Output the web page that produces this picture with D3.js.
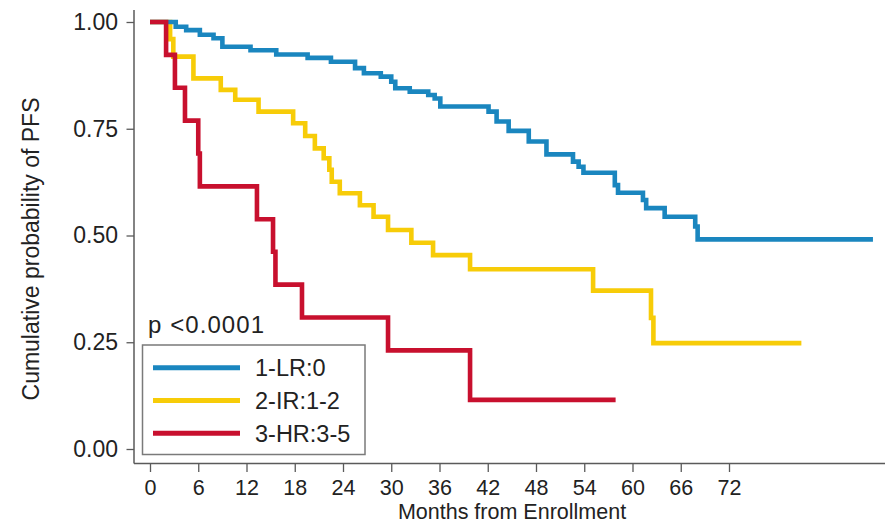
<!DOCTYPE html>
<html>
<head>
<meta charset="utf-8">
<script src="https://cdn.jsdelivr.net/npm/d3@7"></script>
<style>
  html, body { margin: 0; padding: 0; background: #fff; }
  svg { display: block; font-family: "Liberation Sans", Arial, Helvetica, sans-serif; }
</style>
</head>
<body>
<svg id="chart" width="885" height="523"></svg>
<script>
// Axis ticks
const monthTicks = [0, 6, 12, 18, 24, 30, 36, 42, 48, 54, 60, 66, 72];
const probTicks = [0, 0.25, 0.5, 0.75, 1];

// Risk groups
const groups = ["1-LR:0", "2-IR:1-2", "3-HR:3-5"];
const groupColors = ["#1a86bf", "#f7cc08", "#c8102e"];

// Kaplan-Meier step estimates: event times (months) and survival after each step;
// the final pair marks the end of follow-up.
const lrTime = [0, 3.2, 4.5, 6.2, 7.9, 9.0, 12.5, 15.7, 19.6, 22.5, 25.5, 26.6, 28.7, 30.0, 30.5,
  32.3, 34.6, 35.4, 36.1, 42.1, 43.1, 44.6, 47.1, 49.3, 52.6, 53.3, 53.9, 57.8, 58.2, 61.3,
  61.7, 64.0, 67.8, 68.1, 89.9];
const lrSurv = [1, 0.989, 0.981, 0.970, 0.962, 0.942, 0.934, 0.924, 0.916, 0.907, 0.892, 0.880,
  0.872, 0.860, 0.845, 0.837, 0.829, 0.821, 0.802, 0.790, 0.767, 0.745, 0.720, 0.690, 0.673,
  0.661, 0.647, 0.618, 0.600, 0.583, 0.564, 0.544, 0.521, 0.491, 0.491];

const irTime = [0, 2.5, 2.9, 5.4, 8.8, 10.6, 13.5, 17.8, 19.3, 20.5, 21.6, 22.3, 22.6, 23.6, 26.1,
  27.8, 29.6, 32.5, 35.2, 39.8, 55.1, 62.3, 62.6, 81.0];
const irSurv = [1, 0.96, 0.919, 0.868, 0.841, 0.818, 0.790, 0.763, 0.733, 0.704, 0.681, 0.654,
  0.626, 0.599, 0.571, 0.544, 0.513, 0.483, 0.454, 0.421, 0.371, 0.307, 0.248, 0.248];

const hrTime = [0, 2.0, 3.1, 4.35, 6.0, 6.2, 13.3, 15.3, 15.6, 18.9, 29.6, 39.8, 57.9];
const hrSurv = [1, 0.923, 0.846, 0.769, 0.692, 0.615, 0.538, 0.462, 0.385, 0.308, 0.231, 0.115, 0.115];

const pValueText = "p <0.0001";

const svg = d3.select("#chart");

const x = d3.scaleLinear().domain([0, 90]).range([150, 873.75]);
const y = d3.scaleLinear().domain([0, 1]).range([449, 22]);

const axisX = 134;      // vertical axis position
const axisY = 463.5;    // horizontal axis position
const axisColor = "#5a5a5a";
const textColor = "#222";

// Axis lines
svg.append("line")
  .attr("x1", axisX).attr("x2", axisX).attr("y1", 10).attr("y2", axisY)
  .attr("stroke", axisColor).attr("stroke-width", 1.5);
svg.append("line")
  .attr("x1", axisX).attr("x2", 885).attr("y1", axisY).attr("y2", axisY)
  .attr("stroke", axisColor).attr("stroke-width", 1.5);

// Y axis
const gy = svg.append("g")
  .attr("transform", `translate(${axisX},0)`)
  .call(d3.axisLeft(y).tickValues(probTicks).tickFormat(d3.format(".2f"))
    .tickSize(7.5).tickPadding(8.5));
gy.select(".domain").remove();
gy.selectAll(".tick line").attr("stroke", axisColor).attr("stroke-width", 1.3);
gy.selectAll(".tick text").attr("fill", textColor)
  .style("font-size", "23px").style("font-family", "'Liberation Sans', Arial, sans-serif");

// X axis
const gx = svg.append("g")
  .attr("transform", `translate(0,${axisY})`)
  .call(d3.axisBottom(x).tickValues(monthTicks).tickFormat(d3.format("d"))
    .tickSize(8.5).tickPadding(8));
gx.select(".domain").remove();
gx.selectAll(".tick line").attr("stroke", axisColor).attr("stroke-width", 1.3);
gx.selectAll(".tick text").attr("fill", textColor)
  .style("font-size", "21.5px").style("font-family", "'Liberation Sans', Arial, sans-serif");

// Axis titles
svg.append("text")
  .attr("x", 512).attr("y", 518.5)
  .attr("text-anchor", "middle")
  .attr("fill", textColor)
  .style("font-size", "21.5px")
  .text("Months from Enrollment");

svg.append("text")
  .attr("transform", "translate(39,249) rotate(-90)")
  .attr("text-anchor", "middle")
  .attr("fill", textColor)
  .style("font-size", "23px")
  .text("Cumulative probability of PFS");

// Survival curves
const series = [
  { name: groups[1], color: groupColors[1], pts: d3.zip(irTime, irSurv) },
  { name: groups[0], color: groupColors[0], pts: d3.zip(lrTime, lrSurv) },
  { name: groups[2], color: groupColors[2], pts: d3.zip(hrTime, hrSurv) }
];

const stepLine = d3.line()
  .x(d => x(d[0]))
  .y(d => y(d[1]))
  .curve(d3.curveStepAfter);

svg.append("g").selectAll("path")
  .data(series)
  .join("path")
  .attr("d", d => stepLine(d.pts))
  .attr("fill", "none")
  .attr("stroke", d => d.color)
  .attr("stroke-width", 4.6)
  .attr("stroke-linejoin", "miter");

// p-value
svg.append("text")
  .attr("x", 148).attr("y", 333)
  .attr("fill", textColor)
  .attr("textLength", 116)
  .attr("lengthAdjust", "spacing")
  .style("font-size", "24px")
  .text(pValueText);

// Legend
const legend = svg.append("g");
legend.append("rect")
  .attr("x", 142.5).attr("y", 345)
  .attr("width", 222.5).attr("height", 109.5)
  .attr("fill", "#fff")
  .attr("stroke", "#7a7a7a")
  .attr("stroke-width", 1.5);

const legendRows = legend.selectAll("g.row")
  .data(groups)
  .join("g")
  .attr("class", "row")
  .attr("transform", (d, i) => `translate(0,${367.7 + i * 32.8})`);

legendRows.append("line")
  .attr("x1", 153).attr("x2", 240)
  .attr("y1", 0).attr("y2", 0)
  .attr("stroke", (d, i) => groupColors[i])
  .attr("stroke-width", 5);

legendRows.append("text")
  .attr("x", 255).attr("y", 8.7)
  .attr("fill", textColor)
  .style("font-size", "23.5px")
  .text(d => d);
</script>
</body>
</html>
